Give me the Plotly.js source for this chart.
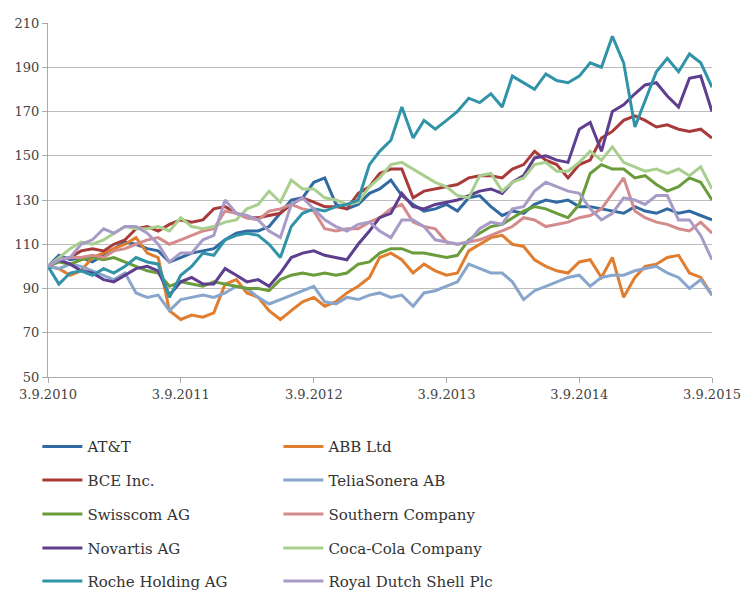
<!DOCTYPE html>
<html>
<head>
<meta charset="utf-8">
<script src="https://cdn.plot.ly/plotly-3.0.1.min.js"></script>
<style>html,body{margin:0;padding:0;background:#fff;}#chart{width:746px;height:590px;}</style>
</head>
<body>
<div id="chart"></div>
<script>
// Monthly observations from 3.9.2010 to 3.9.2015 (index 0..60), rebased to 100
var tickVals = ["2010-09-03","2011-09-03","2012-09-03","2013-09-03","2014-09-03","2015-09-03"];
var tickText = ["3.9.2010","3.9.2011","3.9.2012","3.9.2013","3.9.2014","3.9.2015"];

var att = [100,105,103,104,102,105,108,111,110,108,107,102,104,106,107,108,112,115,116,116,118,124,130,131,138,140,128,126,128,133,135,139,132,128,125,126,128,125,131,132,127,123,125,124,128,130,129,130,127,127,126,125,124,127,125,124,126,124,125,123,121];
var abb = [100,99,96,98,104,106,108,110,113,106,104,80,76,78,77,79,92,94,88,86,80,76,80,84,86,82,84,88,91,95,104,106,103,97,101,98,96,97,107,110,113,114,110,109,103,100,98,97,102,103,95,104,86,95,100,101,104,105,97,95,87];
var bce = [100,103,104,107,108,107,110,112,117,118,116,119,121,120,121,126,127,124,122,122,123,124,128,131,129,127,127,126,133,136,142,144,144,131,134,135,136,137,140,141,141,140,144,146,152,148,146,140,146,148,158,161,166,168,166,163,164,162,161,162,158];
var telia = [100,99,101,100,98,96,94,97,88,86,87,80,85,86,87,86,88,91,90,86,83,85,87,89,91,84,83,86,85,87,88,86,87,82,88,89,91,93,101,99,97,97,93,85,89,91,93,95,96,91,95,96,96,98,99,100,97,95,90,94,87];
var swisscom = [100,102,101,103,104,103,104,102,100,98,97,91,93,92,91,93,92,91,90,90,89,94,96,97,96,97,96,97,101,102,106,108,108,106,106,105,104,105,112,115,118,119,122,125,127,126,124,122,128,142,146,144,144,140,141,137,134,136,140,138,130];
var southern = [100,103,104,104,105,104,107,108,110,112,113,110,112,114,116,117,125,124,122,121,125,126,128,126,125,117,116,117,117,120,122,126,128,120,118,117,111,110,111,112,114,116,118,122,121,118,119,120,122,123,126,133,140,125,122,120,119,117,116,120,115];
var novartis = [100,103,101,98,97,94,93,96,99,100,98,87,93,95,92,92,99,96,93,94,91,97,104,106,107,105,104,103,110,116,122,124,133,127,126,128,129,130,132,134,135,133,138,141,149,150,148,147,162,165,152,170,173,178,182,183,177,172,185,186,170];
var cocacola = [100,104,108,111,110,112,115,118,117,117,118,116,122,118,117,118,120,121,126,128,134,129,139,135,135,131,130,128,129,136,140,146,147,144,141,138,136,132,131,141,142,134,138,140,146,147,143,143,147,152,148,154,147,145,143,144,142,144,141,145,135];
var roche = [100,92,97,98,96,99,97,100,104,102,101,86,96,100,106,105,112,114,115,114,110,104,118,124,126,125,127,128,130,146,152,157,172,158,166,162,166,170,176,174,178,172,186,183,180,187,184,183,186,192,190,204,192,163,175,188,194,188,196,192,181];
var shell = [100,103,104,110,112,117,115,118,118,115,110,102,106,106,112,114,130,124,123,121,116,113,128,131,126,121,118,116,119,120,116,113,121,121,118,112,111,110,111,117,120,119,126,127,134,138,136,134,133,126,121,124,131,130,128,132,132,121,121,114,103];

var names = ["AT&T","ABB Ltd","BCE Inc.","TeliaSonera AB","Swisscom AG","Southern Company","Novartis AG","Coca-Cola Company","Roche Holding AG","Royal Dutch Shell Plc"];
var series = [att, abb, bce, telia, swisscom, southern, novartis, cocacola, roche, shell];
var colors = ["#316aa3","#e07d2f","#a83a3a","#88a6cc","#6b9c3c","#d38b8b","#5e3e8e","#a9cf8e","#3193a8","#a89bc8"];
var legendIds = ["legend","legend","legend2","legend2","legend3","legend3","legend4","legend4","legend5","legend5"];

// monthly dates
var dates = [];
for (var i = 0; i < att.length; i++) {
  var mm = 8 + i;
  var y = 2010 + Math.floor(mm / 12);
  var mo = (mm % 12) + 1;
  dates.push(y + "-" + (mo < 10 ? "0" + mo : mo) + "-03");
}

var traces = series.map(function (vals, k) {
  return {
    type: "scatter", mode: "lines", x: dates, y: vals, name: names[k],
    line: {color: colors[k], width: 3},
    legend: legendIds[k]
  };
});

var legFont = {family: "DejaVu Serif", size: 15, color: "#333"};
function leg(yv) {
  return {orientation: "h", x: -0.016, xanchor: "left", y: yv, yanchor: "middle",
          entrywidth: 186, entrywidthmode: "pixels", font: legFont,
          bgcolor: "rgba(0,0,0,0)", borderwidth: 0, itemwidth: 40};
}

var layout = {
  width: 746, height: 590,
  margin: {l: 48, r: 34, t: 23, b: 213, autoexpand: false},
  paper_bgcolor: "#fff", plot_bgcolor: "#fff",
  showlegend: true,
  xaxis: {
    type: "date", range: ["2010-09-03", "2015-09-03"],
    tickvals: tickVals, ticktext: tickText,
    showgrid: false, zeroline: false,
    showline: true, linecolor: "#aaaaaa", linewidth: 1,
    ticks: "outside", ticklen: 5, tickcolor: "#aaaaaa",
    tickfont: {family: "DejaVu Serif", size: 13, color: "#444"}
  },
  yaxis: {
    range: [50, 210], tickmode: "linear", tick0: 50, dtick: 20,
    showgrid: true, gridcolor: "#bdbdbd", gridwidth: 1, zeroline: false,
    showline: true, linecolor: "#aaaaaa", linewidth: 1,
    ticks: "outside", ticklen: 5, tickcolor: "#aaaaaa",
    tickfont: {family: "DejaVu Serif", size: 13, color: "#444"}
  },
  legend: leg(-0.197),
  legend2: leg(-0.292),
  legend3: leg(-0.388),
  legend4: leg(-0.484),
  legend5: leg(-0.577)
};

Plotly.newPlot("chart", traces, layout, {displayModeBar: false, staticPlot: true});
</script>
</body>
</html>
